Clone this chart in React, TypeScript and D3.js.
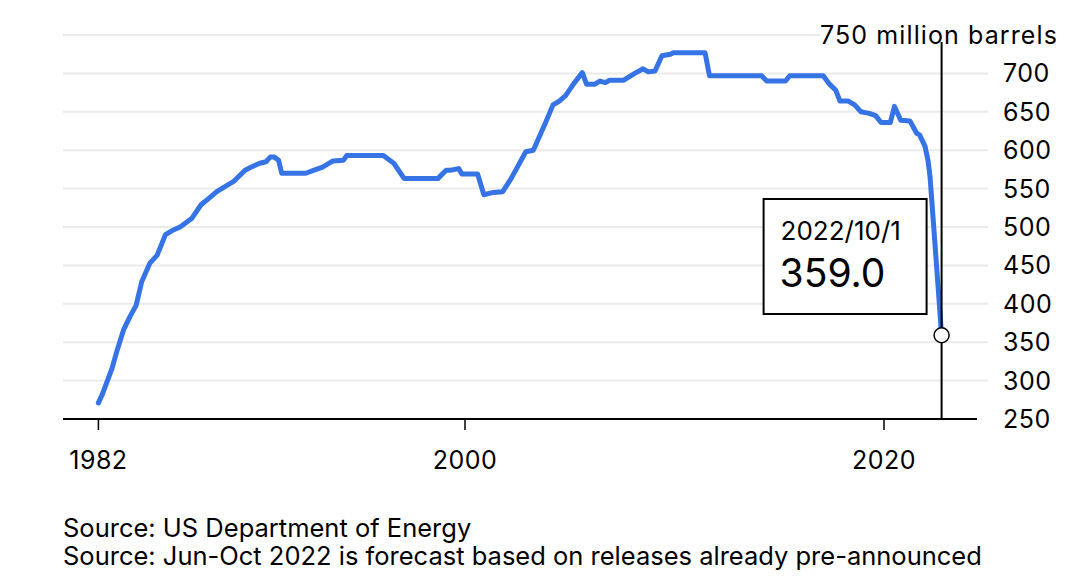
import React from 'react';
import * as d3 from 'd3';

// Strategic Petroleum Reserve level, million barrels (decimal years)
const years = [
    1982.5, 1982.7, 1983.0, 1983.15, 1983.4, 1983.7, 1984.0, 1984.3, 1984.57, 1984.96,
    1985.3, 1985.7, 1986.0, 1986.4, 1986.95, 1987.4, 1987.8, 1988.15, 1988.5, 1988.94,
    1989.5, 1989.8, 1990.2, 1990.5, 1990.7, 1990.9, 1991.1, 1991.25, 1992.4, 1992.8,
    1993.2, 1993.7, 1994.2, 1994.35, 1996.1, 1996.6, 1997.1, 1998.7, 1999.1, 1999.3,
    1999.7, 1999.85, 2000.6, 2000.9, 2001.35, 2001.8, 2002.2, 2002.9, 2003.26, 2003.8,
    2004.2, 2004.5, 2004.8, 2005.2, 2005.6, 2005.8, 2006.2, 2006.44, 2006.7, 2006.9,
    2007.56, 2008.1, 2008.5, 2008.75, 2009.07, 2009.4, 2009.8, 2009.95, 2011.46, 2011.67,
    2014.16, 2014.4, 2015.3, 2015.5, 2017.1, 2017.4, 2017.7, 2017.9, 2018.3, 2018.6,
    2018.9, 2019.3, 2019.6, 2019.86, 2020.3, 2020.5, 2020.8, 2021.24, 2021.56, 2021.7,
    2021.96, 2022.1, 2022.2, 2022.42, 2022.58, 2022.75,
];
const values = [
    271, 283, 305, 316, 340, 366, 383, 398, 429, 453,
    463, 490, 495, 500, 511, 529, 538, 546, 552, 559,
    574, 578, 583, 585, 591, 591, 587, 570, 570, 574,
    578, 586, 587, 593, 593, 583, 563, 563, 574, 574,
    576, 569, 569, 542, 545, 546, 563, 598, 600, 633,
    659, 664, 671, 687, 701, 686, 686, 690, 688, 691,
    691, 700, 706, 702, 703, 723, 725, 727, 727, 697,
    697, 690, 690, 697, 697, 686, 678, 664, 664, 659,
    650, 648, 645, 636, 636, 657, 639, 638, 622, 620,
    605, 587, 565, 483, 423, 359,
];

const xTickYears = [1982.5, 2000, 2020];
const xTickLabels = ['1982', '2000', '2020'];
const yTicks = [250, 300, 350, 400, 450, 500, 550, 600, 650, 700];
const yTopLabel = '750 million barrels';
const calloutDate = '2022/10/1';
const sources = [
    'Source: US Department of Energy',
    'Source: Jun-Oct 2022 is forecast based on releases already pre-announced',
];

const font = 'Inter, "Liberation Sans", Arial, sans-serif';

export default function App() {
    const width = 1091;
    const height = 580;

    const x = d3.scaleLinear().domain([1980.81, 2024.44]).range([63, 977]);
    const y = d3.scaleLinear().domain([250, 750]).range([419, 35]);

    const data = years.map((yr, i) => ({ yr, v: values[i] }));
    const line = d3
        .line<{ yr: number; v: number }>()
        .x((d) => x(d.yr))
        .y((d) => y(d.v))
        .curve(d3.curveLinear);

    const last = data[data.length - 1];
    const px = x(last.yr);
    const py = y(last.v);

    return (
        <svg
            width={width}
            height={height}
            style={{ position: 'absolute', left: 0, top: 0, background: '#fff' }}
            fontFamily={font}
        >
            {/* gridlines */}
            {[...yTicks.slice(1), 750].map((t) => (
                <line key={t} x1={63} x2={988} y1={y(t)} y2={y(t)} stroke="#ebebeb" strokeWidth={2} />
            ))}

            {/* y labels */}
            {yTicks.map((t) => (
                <text key={t} x={1003} y={y(t)} dy="0.36em" fontSize={25} letterSpacing={0.5} fill="#000">
                    {t}
                </text>
            ))}
            <rect x={820} y={y(750) - 12} width={240} height={22} fill="#fff" />
            <text x={1058} y={y(750)} dy="0.36em" fontSize={25} letterSpacing={1.1} textAnchor="end" fill="#000">
                {yTopLabel}
            </text>

            {/* x axis */}
            <line x1={63} x2={977} y1={y(250)} y2={y(250)} stroke="#000" strokeWidth={2} />
            {xTickYears.map((t, i) => (
                <g key={t} transform={`translate(${x(t)},${y(250)})`}>
                    <line y1={0} y2={11} stroke="#000" strokeWidth={1.5} />
                    <text y={50} fontSize={25} letterSpacing={0.5} textAnchor="middle" fill="#000">
                        {xTickLabels[i]}
                    </text>
                </g>
            ))}

            {/* series */}
            <path d={line(data) || ''} fill="none" stroke="#3674e6" strokeWidth={5} strokeLinejoin="round" strokeLinecap="round" />

            {/* hover rule + marker */}
            <line x1={px} x2={px} y1={42} y2={y(250)} stroke="#000" strokeWidth={2} />
            <circle cx={px} cy={py} r={7.5} fill="#fff" stroke="#000" strokeWidth={1.5} />

            {/* callout */}
            <rect x={px - 178} y={199} width={163} height={115} fill="#fff" stroke="#000" strokeWidth={2} />
            <text x={px - 161} y={240} fontSize={26} fill="#000">
                {calloutDate}
            </text>
            <text x={px - 162} y={287} fontSize={39} fill="#000">
                {last.v.toFixed(1)}
            </text>

            {/* sources */}
            {sources.map((s, i) => (
                <text key={i} x={63} y={537 + i * 28} fontSize={25.5} fill="#000">
                    {s}
                </text>
            ))}
        </svg>
    );
}
